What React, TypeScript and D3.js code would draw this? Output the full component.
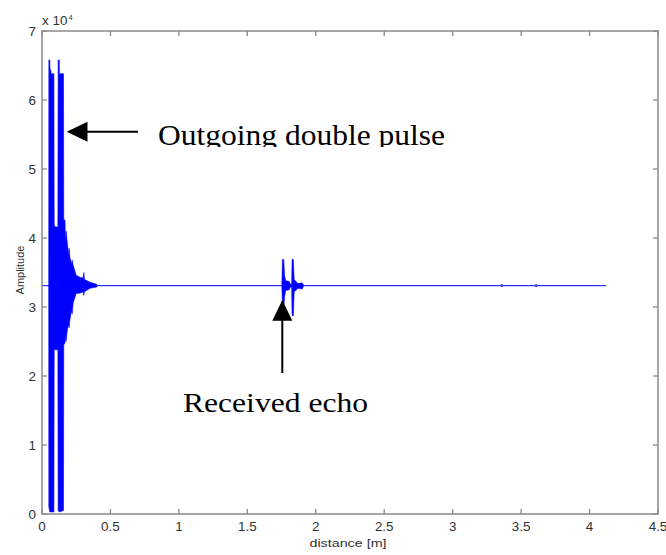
import React from "react";
import * as d3 from "d3";

// distance [m], upper envelope, lower envelope (amplitude in units of 1e4)
const pulseEnvelope: [number, number, number][] = [
  [0.049, 3.31, 3.31],
  [0.05, 6.58, 0.1],
  [0.057, 6.58, 0.03],
  [0.058, 6.46, 0.03],
  [0.065, 6.42, 0.03],
  [0.066, 6.38, 0.03],
  [0.087, 6.38, 0.03],
  [0.089, 4.2, 2.4],
  [0.095, 4.16, 2.38],
  [0.116, 4.16, 2.38],
  [0.118, 6.58, 0.05],
  [0.126, 6.58, 0.03],
  [0.127, 6.38, 0.03],
  [0.157, 6.38, 0.05],
  [0.159, 4.26, 2.45],
  [0.168, 4.26, 2.48],
  [0.172, 3.9, 2.6],
  [0.176, 4.1, 2.5],
  [0.185, 3.93, 2.67],
  [0.194, 3.75, 2.75],
  [0.198, 3.85, 2.7],
  [0.204, 3.72, 2.81],
  [0.215, 3.62, 2.95],
  [0.22, 3.68, 2.9],
  [0.228, 3.6, 3.06],
  [0.25, 3.46, 3.2],
  [0.277, 3.43, 3.2],
  [0.3, 3.42, 3.22],
  [0.306, 3.5, 3.17],
  [0.31, 3.4, 3.22],
  [0.35, 3.36, 3.27],
  [0.4, 3.33, 3.29],
];

const echoEnvelope: [number, number, number][] = [
  [1.752, 3.31, 3.31],
  [1.757, 3.69, 3.0],
  [1.766, 3.69, 2.98],
  [1.772, 3.45, 3.15],
  [1.78, 3.38, 3.24],
  [1.806, 3.37, 3.25],
  [1.815, 3.33, 3.29],
  [1.824, 3.33, 3.29],
  [1.827, 3.69, 2.88],
  [1.836, 3.69, 2.87],
  [1.842, 3.4, 3.22],
  [1.86, 3.36, 3.25],
  [1.87, 3.34, 3.27],
  [1.9, 3.35, 3.26],
  [1.91, 3.32, 3.3],
];

const baselineEnvelope: [number, number, number][] = [
  [0.0, 3.318, 3.302],
  [3.35, 3.318, 3.302],
  [3.36, 3.335, 3.285],
  [3.37, 3.318, 3.302],
  [3.6, 3.318, 3.302],
  [3.61, 3.335, 3.285],
  [3.62, 3.318, 3.302],
  [4.12, 3.318, 3.302],
];

const xTicks = [0, 0.5, 1, 1.5, 2, 2.5, 3, 3.5, 4, 4.5];
const yTicks = [0, 1, 2, 3, 4, 5, 6, 7];

const W = 666;
const H = 555;
const left = 42;
const right = 658;
const top = 31;
const bottom = 514;

export default function App() {
  const x = d3.scaleLinear().domain([0, 4.5]).range([left, right]);
  const y = d3.scaleLinear().domain([0, 7]).range([bottom, top]);
  const area = d3
    .area<[number, number, number]>()
    .x((d) => x(d[0]))
    .y0((d) => y(d[2]))
    .y1((d) => y(d[1]));

  const axisColor = "#8a8a8a";
  const labelColor = "#333";
  const sans = "'Liberation Sans', Arial, sans-serif";
  const serif = "'Liberation Serif', 'Times New Roman', serif";
  const tickLen = 5;

  return (
    <svg
      width={W}
      height={H}
      style={{ position: "absolute", left: 0, top: 0, background: "#fff" }}
    >
      <defs>
        <clipPath id="plotClip">
          <rect x={left} y={top} width={right - left} height={bottom - top} />
        </clipPath>
        <clipPath id="textClip">
          <rect x={0} y={0} width={W} height={147} />
        </clipPath>
      </defs>

      <g clipPath="url(#plotClip)">
        <path d={area(baselineEnvelope) || ""} fill="#3030ff" stroke="none" />
        <path d={area(echoEnvelope) || ""} fill="#0000ff" stroke="#0000ff" strokeWidth={0.6} />
        <path d={area(pulseEnvelope) || ""} fill="#0000ff" stroke="#0000ff" strokeWidth={0.6} />
      </g>

      {/* frame */}
      <rect
        x={left}
        y={top}
        width={right - left}
        height={bottom - top}
        fill="none"
        stroke={axisColor}
        strokeWidth={1.5}
      />
      {xTicks.map((t) => (
        <g key={"xt" + t}>
          <line x1={x(t)} x2={x(t)} y1={bottom} y2={bottom - tickLen} stroke={axisColor} strokeWidth={1.3} />
          <line x1={x(t)} x2={x(t)} y1={top} y2={top + tickLen} stroke={axisColor} strokeWidth={1.3} />
          <text
            transform={`translate(${x(t)},531) scale(1.12,1)`}
            textAnchor="middle"
            fontFamily={sans}
            fontSize={12}
            fill={labelColor}
          >
            {String(t)}
          </text>
        </g>
      ))}
      {yTicks.map((t) => (
        <g key={"yt" + t}>
          <line x1={left} x2={left + tickLen} y1={y(t)} y2={y(t)} stroke={axisColor} strokeWidth={1.3} />
          <line x1={right} x2={right - tickLen} y1={y(t)} y2={y(t)} stroke={axisColor} strokeWidth={1.3} />
          <text
            transform={`translate(36,${y(t) + 4.5}) scale(1.12,1)`}
            textAnchor="end"
            fontFamily={sans}
            fontSize={12}
            fill={labelColor}
          >
            {String(t)}
          </text>
        </g>
      ))}

      {/* exponent */}
      <text transform="translate(42,25) scale(1.12,1)" fontFamily={sans} fontSize={12} fill={labelColor}>
        x 10
      </text>
      <text x={68.5} y={19.5} fontFamily={sans} fontSize={7.5} fill={labelColor}>
        4
      </text>

      {/* axis labels */}
      <text
        x={348}
        y={547}
        textAnchor="middle"
        fontFamily={sans}
        fontSize={11.5}
        fill={labelColor}
        textLength={77}
        lengthAdjust="spacingAndGlyphs"
      >
        distance [m]
      </text>
      <text
        transform="translate(24,270) rotate(-90)"
        textAnchor="middle"
        fontFamily={sans}
        fontSize={11}
        fill={labelColor}
      >
        Amplitude
      </text>

      {/* annotations */}
      <line x1={86} x2={138} y1={131.7} y2={131.7} stroke="#000" strokeWidth={2} />
      <polygon points="66.7,131.7 87.5,121.7 87.5,141.7" fill="#000" />
      <text
        x={158}
        y={145}
        fontFamily={serif}
        fontSize={29}
        fill="#000"
        textLength={287}
        lengthAdjust="spacingAndGlyphs"
        clipPath="url(#textClip)"
      >
        Outgoing double pulse
      </text>

      <line x1={282.3} x2={282.3} y1={319} y2={373} stroke="#000" strokeWidth={2} />
      <polygon points="282.3,300 272.3,320.7 292.3,320.7" fill="#000" />
      <text
        x={183}
        y={412}
        fontFamily={serif}
        fontSize={28}
        fill="#000"
        textLength={185}
        lengthAdjust="spacingAndGlyphs"
      >
        Received echo
      </text>
    </svg>
  );
}
